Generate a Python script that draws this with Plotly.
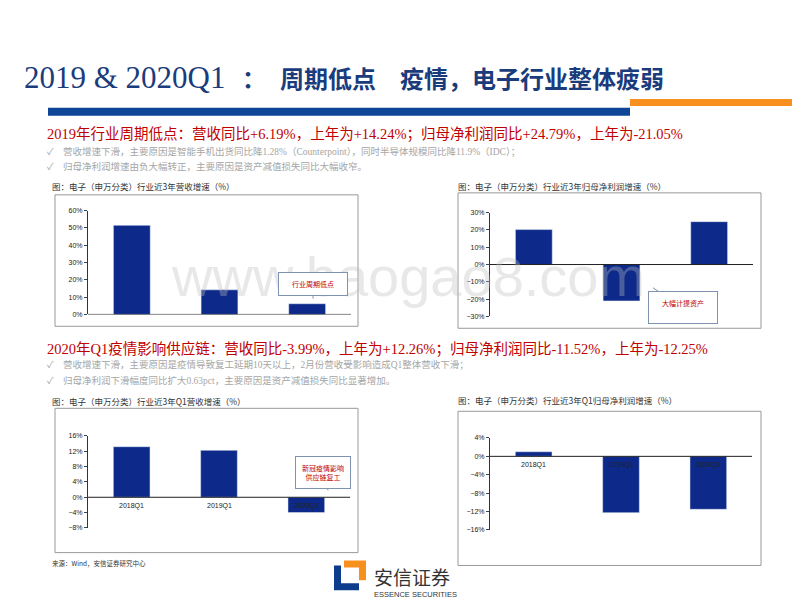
import plotly.graph_objects as go

years = ["2017", "2018", "2019"]
rev_growth = [51.5, 14.24, 6.19]
profit_growth = [20.2, -21.05, 24.79]
quarters = ["2018Q1", "2019Q1", "2020Q1"]
q1_rev_growth = [13.2, 12.26, -3.99]
q1_profit_growth = [1.0, -12.25, -11.52]

W, H = 800, 600
def py(p): return 1 - p / H
def px(p): return p / W

NAVY = "#0D2A8A"
fig = go.Figure()

charts = [
    (years, rev_growth, "x", "y", 80, 343, 201, 306, [0, 60], 10),
    (years, profit_growth, "x2", "y2", 482, 745, 203, 308, [-30, 30], 10),
    (quarters, q1_rev_growth, "x3", "y3", 80, 342, 429, 522, [-8, 16], 4),
    (quarters, q1_profit_growth, "x4", "y4", 482, 744, 431, 524, [-16, 4], 4),
]
shapes = []
annotations = []
for i, (cats, vals, xa, ya, x0, x1, yt, yb, rng, dt) in enumerate(charts):
    fig.add_trace(go.Bar(x=cats, y=vals, xaxis=xa, yaxis=ya, marker_color=NAVY,
                         width=0.42, showlegend=False))
    sfx = "" if i == 0 else str(i + 1)
    fig.layout["xaxis" + sfx] = dict(domain=[px(x0), px(x1)], anchor=ya, showticklabels=False,
                                     showgrid=False, zeroline=False, showline=False,
                                     range=[-0.5, 2.5], fixedrange=True)
    fig.layout["yaxis" + sfx] = dict(domain=[py(yb), py(yt)], anchor=xa, range=rng, dtick=dt,
                                     ticksuffix="%", showgrid=False, zeroline=False,
                                     showline=True, linecolor="#333", ticks="outside", ticklen=3,
                                     tickfont=dict(size=7, family="Liberation Sans", color="#222"))
    shapes.append(dict(type="line", xref=xa + " domain", yref=ya, x0=0, x1=1, y0=0, y1=0,
                       line=dict(color="#222", width=1)))
    for c in cats:
        annotations.append(dict(x=c, y=0, xref=xa, yref=ya, text=c, showarrow=False, yshift=-9,
                                font=dict(size=7, family="Liberation Sans", color="#222")))

for (x0, y0, x1, y1) in [(47, 185, 350, 318), (450, 183, 753, 320), (47, 401, 350, 547), (450, 404, 753, 560)]:
    shapes.append(dict(type="rect", xref="paper", yref="paper", x0=px(x0), x1=px(x1), y0=py(y1), y1=py(y0),
                       line=dict(color="#999", width=1)))

shapes.append(dict(type="rect", xref="paper", yref="paper", x0=px(40), x1=px(622), y0=py(105), y1=py(97),
                   line_width=0, fillcolor="#0E4596"))
shapes.append(dict(type="rect", xref="paper", yref="paper", x0=px(622), x1=1, y0=py(95), y1=py(88),
                   line_width=0, fillcolor="#F7901E"))
shapes.append(dict(type="path", xref="paper", yref="paper",
                   path=f"M {px(326)} {py(560)} L {px(333)} {py(560)} L {px(333)} {py(578)} L {px(351)} {py(578)} L {px(351)} {py(585)} L {px(326)} {py(585)} Z",
                   fillcolor="#0E3C8C", line_width=0))
shapes.append(dict(type="path", xref="paper", yref="paper",
                   path=f"M {px(336)} {py(555)} L {px(358)} {py(555)} L {px(358)} {py(575)} L {px(351)} {py(575)} L {px(351)} {py(562)} L {px(336)} {py(562)} Z",
                   fillcolor="#F7901E", line_width=0))

def txt(x, y, s, size, color, family="Noto Sans CJK SC", anchor="left"):
    annotations.append(dict(x=px(x), y=py(y), xref="paper", yref="paper", text=s,
                            showarrow=False, xanchor=anchor, yanchor="middle",
                            font=dict(size=size, color=color, family=family)))

TITLE_C = "#1A3C7C"
txt(14, 66, "2019 &amp; 2020Q1", 31, TITLE_C, "Liberation Serif")
txt(232, 66, "<b>：</b>", 24, TITLE_C)
txt(270, 66, "<b>周期低点　疫情，电子行业整体疲弱</b>", 24, TITLE_C)
RED = "#C00000"
GR = "#A6A6A6"
F = "Liberation Serif, Noto Sans CJK SC"
txt(37, 124, "2019年行业周期低点：营收同比+6.19%，上年为+14.24%；归母净利润同比+24.79%，上年为-21.05%", 14.5, RED, F)
txt(37, 141, "✓　营收增速下滑，主要原因是智能手机出货同比降1.28%（Counterpoint），同时半导体规模同比降11.9%（IDC）；", 9.5, GR, F)
txt(37, 156, "✓　归母净利润增速由负大幅转正，主要原因是资产减值损失同比大幅收窄。", 9.5, GR, F)
txt(37, 341, "2020年Q1疫情影响供应链：营收同比-3.99%，上年为+12.26%；归母净利润同比-11.52%，上年为-12.25%", 14.5, RED, F)
txt(37, 357, "✓　营收增速下滑，主要原因是疫情导致复工延期10天以上，2月份营收受影响造成Q1整体营收下滑；", 9.5, GR, F)
txt(37, 373, "✓　归母净利润下滑幅度同比扩大0.63pct，主要原因是资产减值损失同比显著增加。", 9.5, GR, F)
txt(42, 176, "图：电子（申万分类）行业近3年营收增速（%）", 8.5, "#333")
txt(448, 176, "图：电子（申万分类）行业近3年归母净利润增速（%）", 8.5, "#333")
txt(42, 394, "图：电子（申万分类）行业近3年Q1营收增速（%）", 8.5, "#333")
txt(448, 393, "图：电子（申万分类）行业近3年Q1归母净利润增速（%）", 8.5, "#333")
txt(42, 557, "来源：Wind，安信证券研究中心", 6.5, "#333")
txt(364, 571, "安信证券", 19, "#333")
txt(364, 589, "ESSENCE SECURITIES", 7.5, "#333", "Liberation Sans")
txt(400, 268, "www.baogao8.com", 56, "rgba(190,190,190,0.35)", "Liberation Sans", "center")

def callout(x, y, s, ax, ay):
    annotations.append(dict(x=px(x), y=py(y), xref="paper", yref="paper", text=s, showarrow=True,
                            ax=ax, ay=ay, arrowhead=0, arrowcolor="#7F93B0", arrowwidth=1,
                            bordercolor="#7F93B0", borderwidth=1, borderpad=6, bgcolor="white",
                            font=dict(size=7, color=RED, family="Noto Sans CJK SC")))
callout(305, 290, "　行业周期低点　", 0, -15)
callout(645, 279, "　大幅计提资产　<br> ", 30, 20)
callout(320, 484, "新冠疫情影响<br>供应链复工", -5, -18)

fig.update_layout(width=W, height=H, margin=dict(l=0, r=0, t=0, b=0), plot_bgcolor="white",
                  paper_bgcolor="white", shapes=shapes, annotations=annotations, bargap=0.5)
fig.write_html("out.html")
